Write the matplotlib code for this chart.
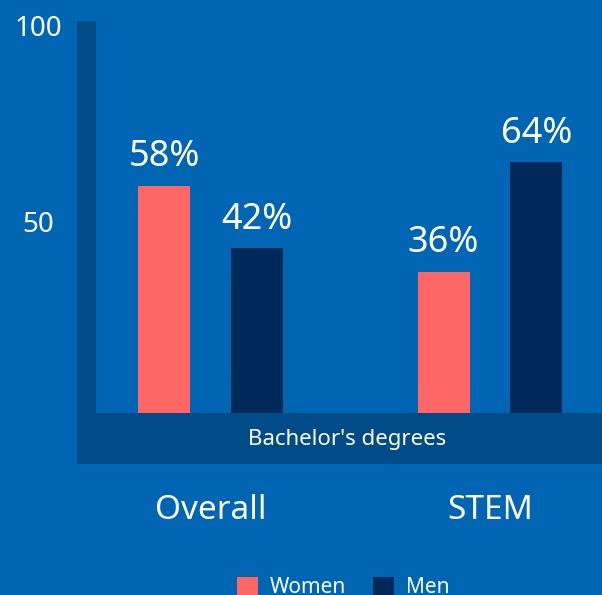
import matplotlib
matplotlib.use("Agg")
import matplotlib.pyplot as plt
from matplotlib.patches import Rectangle, Patch
from matplotlib.transforms import ScaledTranslation
import numpy as np

plt.rcParams['font.family'] = ['Noto Sans', 'DejaVu Sans']

categories = ["Overall", "STEM"]
series_names = ["Women", "Men"]
women = [58, 36]
men = [42, 64]
y_ticks = [50, 100]
band_label = "Bachelor's degrees"

BG = "#0066b3"
BAND = "#004b88"
WOMEN_C = "#ff6666"
MEN_C = "#00295b"

W, H = 602, 595
fig = plt.figure(figsize=(W / 100, H / 100), dpi=100, facecolor=BG)

left, right, top, bottom = 77, 602, 21, 464
ax = fig.add_axes([left / W, 1 - bottom / H, (right - left) / W, (bottom - top) / H])
ax.set_facecolor("none")
for s in ax.spines.values():
    s.set_visible(False)

px_per_group = 279.5
xmin = (77 - 210.5) / px_per_group
xmax = (602 - 210.5) / px_per_group
band_depth = 13.0
ax.set_xlim(xmin, xmax)
ax.set_ylim(-band_depth, 100)

strip_right = (96 - 210.5) / px_per_group
ax.add_patch(Rectangle((xmin, 0), strip_right - xmin, 100, facecolor=BAND, edgecolor="none", zorder=1))
ax.add_patch(Rectangle((xmin, -band_depth), xmax - xmin, band_depth, facecolor=BAND, edgecolor="none", zorder=1))
ax.text((347.5 - 210.5) / px_per_group, -band_depth / 2 - 0.3, band_label, ha="center", va="center",
        color="white", fontsize=16, zorder=3)

x = np.arange(len(categories))
bw = 0.186
off = 0.166
b1 = ax.bar(x - off, women, bw, color=WOMEN_C, zorder=2)
b2 = ax.bar(x + off, men, bw, color=MEN_C, zorder=2)

for bars, vals in ((b1, women), (b2, men)):
    for rect, v in zip(bars, vals):
        ax.text(rect.get_x() + rect.get_width() / 2, v + 5, f"{v}%", ha="center", va="baseline",
                color="white", fontsize=26, zorder=3)

for xi, c in zip(x, categories):
    ax.text(xi, -24.9, c, ha="center", va="center", color="white", fontsize=24,
            fontweight="medium", clip_on=False)

ax.set_xticks([])
ax.set_yticks(y_ticks)
ax.set_yticklabels([str(t) for t in y_ticks])
ax.tick_params(axis="y", length=0, pad=28, labelsize=20, labelcolor="white")
shift = ScaledTranslation(0, -3 / 72, fig.dpi_scale_trans)
for lab in ax.get_yticklabels():
    lab.set_ha("center")
    lab.set_va("center_baseline")
    lab.set_transform(lab.get_transform() + shift)

handles = [Patch(facecolor=WOMEN_C, edgecolor="none"), Patch(facecolor=MEN_C, edgecolor="none")]
fig.legend(handles, series_names, loc="center", bbox_to_anchor=(343.5 / W, 1 - 587.5 / H),
           ncol=2, frameon=False, fontsize=15, labelcolor="white", handlelength=1.0,
           handleheight=1.0, handletextpad=0.58, columnspacing=1.3, borderpad=0, borderaxespad=0)

fig.savefig("out.png", dpi=100, facecolor=BG)
